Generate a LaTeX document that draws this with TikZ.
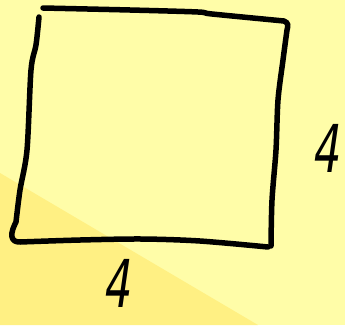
\documentclass[tikz,border=0pt]{standalone}
\usepackage{fontspec}
\setmainfont{DejaVu Sans}
\newfontfamily\handfont{DejaVu Sans}[FakeSlant=0.22]
\begin{document}
\begin{tikzpicture}[x=1pt,y=-1pt,
  ink/.style={line width=5.5pt,line cap=round,line join=round,black},
  numlabel/.style={inner sep=0pt,font=\handfont\fontsize{66}{66}\selectfont,xscale=0.65}]
\definecolor{bglight}{HTML}{FFFDA8}
\definecolor{bgdark}{HTML}{FFF083}
\useasboundingbox (0,0) rectangle (345,325);
\fill[bglight] (0,0) rectangle (345,325);
\fill[bgdark] (0,173) -- (258,325) -- (0,325) -- cycle;
% top and right side
\draw[ink] plot[smooth,tension=0.5] coordinates {(43,8) (130,10) (198,12) (212,14) (284,21)}
  .. controls (289,23) and (288,26) .. (287,30)
  plot[smooth,tension=0.5] coordinates {(287,30) (283,60) (278,100) (276,150) (272,200) (271,246)};
% left side with curl and bottom
\draw[ink] plot[smooth,tension=0.5] coordinates {(39,17) (36,45) (31,70) (27,150) (20,190) (16,222)}
  .. controls (14,226) and (11,232) .. (12,237)
  .. controls (13,241) and (16,242) .. (20,242)
  plot[smooth,tension=0.5] coordinates {(20,242) (80,240) (142,239) (200,241) (268,247)};
\node[numlabel,anchor=base] (rightfour) at (325,172) {4};
\node[numlabel,anchor=base] (bottomfour) at (116,307) {4};
\end{tikzpicture}
\end{document}
